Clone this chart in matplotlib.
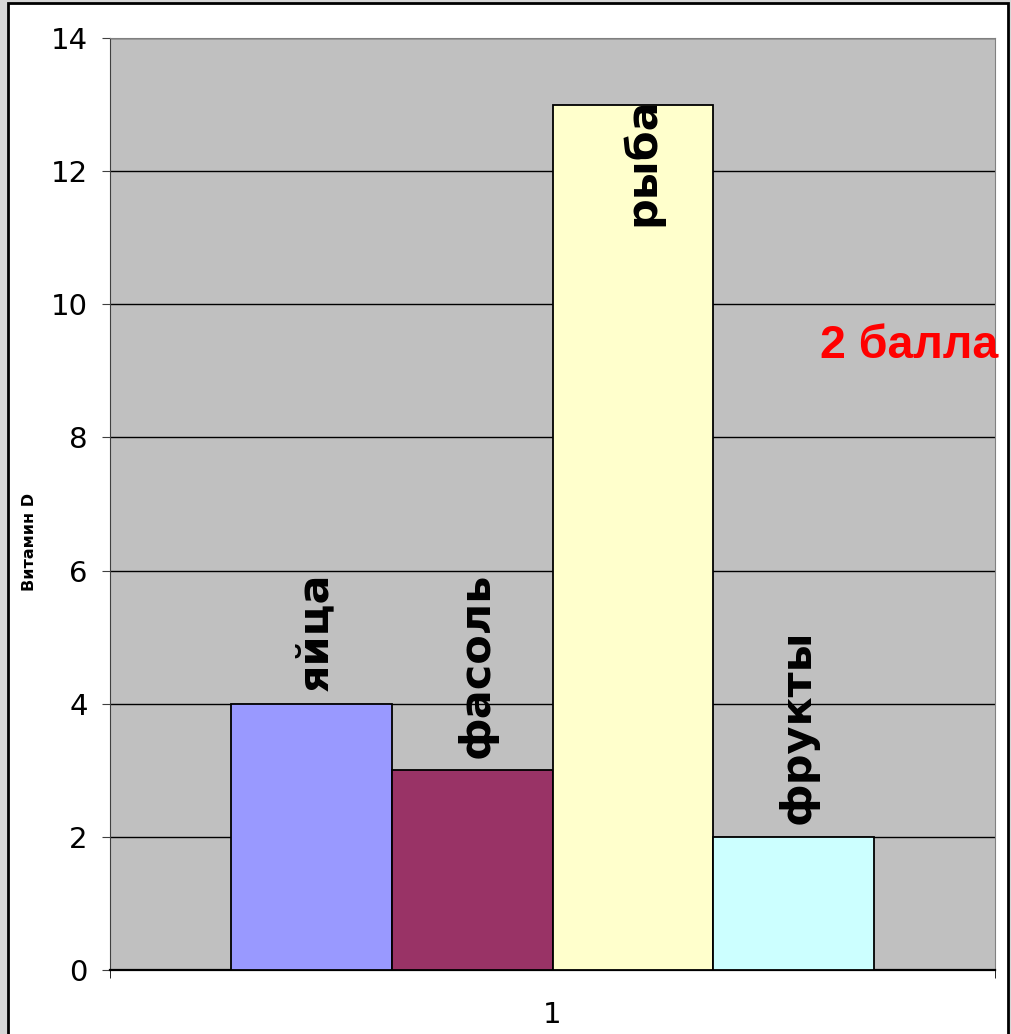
import matplotlib
matplotlib.use("Agg")
import matplotlib.pyplot as plt
from matplotlib.patches import Rectangle

# data
foods = ["яйца", "фасоль", "рыба", "фрукты"]
vitamin_d = [4, 3, 13, 2]
colors = ["#9999FF", "#993366", "#FFFFCC", "#CCFFFF"]
category = ["1"]
y_ticks = [0, 2, 4, 6, 8, 10, 12, 14]
ylabel = "Витамин D"
note = "2 балла"

LABEL_FONT = ["Liberation Sans Narrow", "DejaVu Sans"]

fig = plt.figure(figsize=(10.11, 10.34), dpi=100, facecolor="#d6d6d6")
# white slide frame with black border
fig.patches.append(Rectangle((8 / 1011, -0.01), 1000 / 1011, 1 - 3 / 1034 + 0.01,
                             transform=fig.transFigure, facecolor="white",
                             edgecolor="black", linewidth=2, zorder=-10))

ax = fig.add_axes([110 / 1011, 64 / 1034, 885 / 1011, 932 / 1034])
ax.set_facecolor("#C0C0C0")

n = len(foods)
width = 0.1817
for i, (name, val, col) in enumerate(zip(foods, vitamin_d, colors)):
    x = 1 + (i - (n - 1) / 2) * width
    ax.bar(x, val, width=width, color=col, edgecolor="black", linewidth=1.3, zorder=3)
    if val >= max(vitamin_d):
        # tallest bar: label sits inside the top of the bar
        ax.annotate(name, (x, val), xytext=(7, 5), textcoords="offset points",
                    rotation=90, ha="center", va="top", fontsize=31,
                    fontweight="bold", family=LABEL_FONT, zorder=5)
    else:
        ax.annotate(name, (x, val), xytext=(3, 9), textcoords="offset points",
                    rotation=90, ha="center", va="bottom", fontsize=31,
                    fontweight="bold", family=LABEL_FONT, zorder=5)

ax.set_xlim(0.5, 1.5)
ax.set_ylim(0, 14)
ax.set_yticks(y_ticks)
ax.set_yticklabels([str(t) for t in y_ticks], fontsize=21)
ax.set_xticks([1])
ax.set_xticklabels(category, fontsize=21)
ax.set_xticks([0.5, 1.5], minor=True)
ax.tick_params(axis="x", which="major", length=0, pad=22)
ax.tick_params(axis="x", which="minor", length=6, color="black", direction="out")
ax.tick_params(axis="y", length=6, color="#404040", pad=10, direction="out")

ax.yaxis.grid(True, color="black", linewidth=1, zorder=1)
ax.set_axisbelow(True)

ax.spines["left"].set_color("#404040")
ax.spines["bottom"].set_color("black")
ax.spines["bottom"].set_linewidth(1.6)
ax.spines["top"].set_color("#808080")
ax.spines["right"].set_color("#808080")

fig.text(30 / 1011, 1 - 542 / 1034, ylabel, rotation=90, ha="center", va="center",
         fontsize=11.5, fontweight="bold", family=LABEL_FONT)

fig.text(820 / 1011, 1 - 346 / 1034, note, ha="left", va="center", color="red",
         fontsize=33.5, fontweight="bold", family=["Liberation Sans", "DejaVu Sans"])

fig.savefig("out.png", dpi=100)
